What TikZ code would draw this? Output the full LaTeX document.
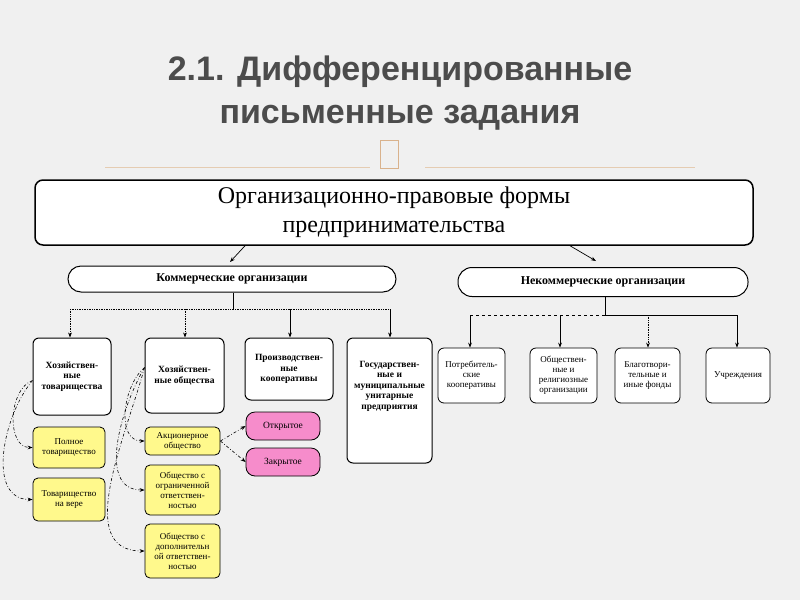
\documentclass[tikz,border=0pt]{standalone}
\usepackage{fontspec}
\setmainfont{Liberation Serif}
\newfontfamily\titlefont{Liberation Sans}
\usetikzlibrary{arrows.meta}
\begin{document}
\begin{tikzpicture}[x=1pt,y=-1pt,
 box/.style={draw=black,line width=1pt,fill=white,rounded corners=6pt,align=center},
 wbox/.style={box,font=\bfseries\fontsize{9.5}{10.5}\selectfont},
 ybox/.style={box,fill=yellow!45,line width=0.8pt,font=\fontsize{9}{10}\selectfont,rounded corners=5pt},
 pbox/.style={box,fill=magenta!45,line width=0.8pt,font=\fontsize{9.5}{10}\selectfont,rounded corners=9pt},
 nbox/.style={box,line width=0.8pt,font=\fontsize{9}{10}\selectfont,rounded corners=6pt},
 arr/.style={-{Stealth[length=5pt]},line width=0.7pt},
 dd/.style={arr,dash dot,line width=0.6pt}]
\useasboundingbox (0,0) rectangle (800,600);
\fill[gray!12] (0,0) rectangle (800,600);
\node[font=\titlefont\bfseries\fontsize{34}{36}\selectfont,text=black!70] (t1) at (400,72) {2.1. Дифференцированные};
\node[font=\titlefont\bfseries\fontsize{34}{36}\selectfont,text=black!70] (t2) at (400,118) {письменные задания};
\draw[brown!40,line width=0.8pt] (105,167) -- (370,167) (425,167) -- (695,167);
\draw[brown!60,line width=0.8pt] (380,140) rectangle (398,168);
\node[box,line width=1.5pt,minimum width=718,minimum height=65,rounded corners=8pt,font=\fontsize{24}{29}\selectfont] (main) at (394,212.5) {Организационно-правовые формы\\предпринимательства};
\node[box,minimum width=328,minimum height=26,rounded corners=13pt,font=\bfseries\fontsize{12}{14}\selectfont] (com) at (232,279) {Коммерческие организации};
\node[box,minimum width=290,minimum height=29,rounded corners=14pt,font=\bfseries\fontsize{12}{14}\selectfont] (non) at (603,282) {Некоммерческие организации};
\draw[arr] (main.south -| 245,0) -- (230,262);
\draw[arr] (main.south -| 570,0) -- (596,261);
% commercial
\node[wbox,minimum width=78,minimum height=77] (b1) at (72,376.5) {Хозяйствен-\\ные\\товарищества};
\node[wbox,minimum width=79,minimum height=75] (b2) at (184.5,375.5) {Хозяйствен-\\ные общества};
\node[wbox,minimum width=88,minimum height=62] (b3) at (289,369) {Производствен-\\ные\\кооперативы};
\node[wbox,minimum width=85,minimum height=125] (b4) at (389.5,400.5) {Государствен-\\ные и\\муниципальные\\унитарные\\предприятия\\[20pt]};
\coordinate (cj) at (233,309);
\draw[line width=0.7pt] (com.south -| cj) -- (cj);
\draw[densely dotted,line width=0.7pt] (70,309) -- (390,309);
\draw[arr,densely dotted] (70,309) -- (b1.north -| 70,0);
\draw[arr,densely dotted] (185,309) -- (b2.north -| 185,0);
\draw[arr] (290,309) -- (b3.north -| 290,0);
\draw[arr] (390,309) -- (b4.north -| 390,0);
\node[ybox,minimum width=72,minimum height=41] (y1) at (69,447.5) {Полное\\товарищество};
\node[ybox,minimum width=72,minimum height=43] (y2) at (69,499.5) {Товарищество\\на вере};
\node[ybox,minimum width=75,minimum height=28] (y3) at (182.5,441) {Акционерное\\общество};
\node[ybox,minimum width=75,minimum height=50] (y4) at (182.5,490) {Общество с\\ограниченной\\ответствен-\\ностью};
\node[ybox,minimum width=75,minimum height=54] (y5) at (182.5,551) {Общество с\\дополнительн\\ой ответствен-\\ностью};
\node[pbox,minimum width=74,minimum height=28] (p1) at (283,426) {Открытое};
\node[pbox,minimum width=74,minimum height=28] (p2) at (283,462) {Закрытое};
\draw[dd] (b1.west) ++(0,4) to[out=200,in=180] (y1.west);
\draw[dd] (b1.west) ++(0,4) to[out=230,in=180] (y2.west);
\draw[dd] (b2.west) ++(0,-8) to[out=220,in=180] (y3.west);
\draw[dd] (b2.west) ++(0,-8) to[out=240,in=180] (y4.west);
\draw[dd] (b2.west) ++(0,-8) to[out=255,in=180] (y5.west);
\draw[dd] (y3.east) -- (p1.west);
\draw[dd] (y3.east) -- (p2.west);
% noncommercial
\coordinate (nj) at (605,315);
\draw[line width=0.7pt] (non.south -| nj) -- (nj);
\draw[dashed,line width=0.7pt] (470,315) -- (605,315);
\draw[line width=0.7pt] (605,315) -- (737,315);
\node[nbox,minimum width=67,minimum height=55] (n1) at (471.5,375.5) {Потребитель-\\ские\\кооперативы};
\node[nbox,minimum width=67,minimum height=55] (n2) at (563.5,375.5) {Обществен-\\ные и\\религиозные\\организации};
\node[nbox,minimum width=65,minimum height=55] (n3) at (647.5,375.5) {Благотвори-\\тельные и\\иные фонды};
\node[nbox,minimum width=64,minimum height=55] (n4) at (738,375.5) {Учреждения};
\draw[arr] (470,315) -- (n1.north -| 470,0);
\draw[arr] (560,315) -- (n2.north -| 560,0);
\draw[arr,densely dotted] (648,315) -- (n3.north -| 648,0);
\draw[arr] (737,315) -- (n4.north -| 737,0);
\end{tikzpicture}
\end{document}
